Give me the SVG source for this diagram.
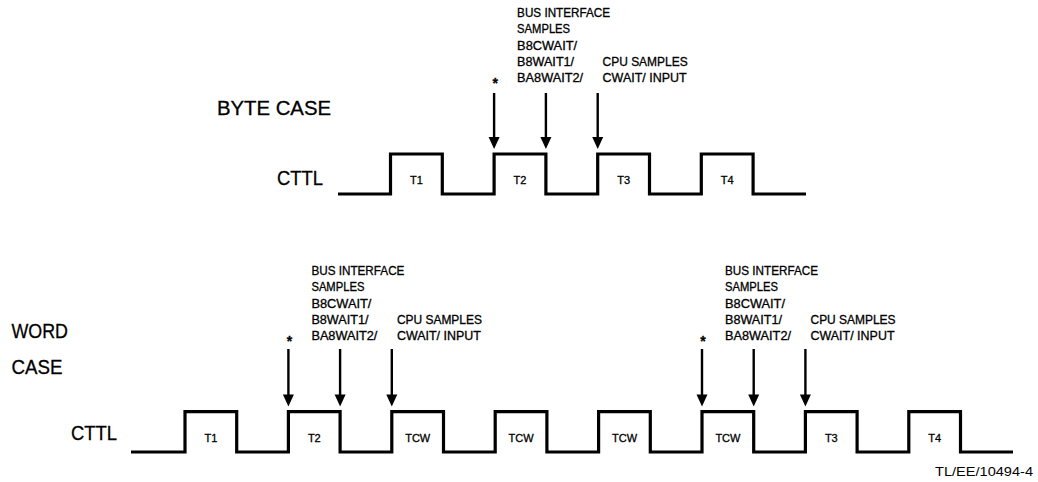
<svg xmlns="http://www.w3.org/2000/svg" width="1038" height="482" viewBox="0 0 1038 482">
<style>
text{font-family:"Liberation Sans",Arial,sans-serif;fill:#000;stroke:#000;stroke-width:0.3}
.big{font-size:20.5px}
.ann{font-size:12px}
.tl{font-size:11px;text-anchor:middle}
.star{font-size:14px;text-anchor:middle;font-weight:bold}
.foot{font-size:12.5px;stroke-width:0}
.wave{fill:none;stroke:#000;stroke-width:3.2;stroke-linejoin:miter;stroke-linecap:butt}
.shaft{stroke:#000;stroke-width:2.4}
.head{fill:#000}
</style>
<defs>
<g id="annot">
<text class="ann" x="23" y="0" textLength="93" lengthAdjust="spacingAndGlyphs">BUS INTERFACE</text>
<text class="ann" x="23" y="16.3" textLength="53" lengthAdjust="spacingAndGlyphs">SAMPLES</text>
<text class="ann" x="23" y="32.6" textLength="60" lengthAdjust="spacingAndGlyphs">B8CWAIT/</text>
<text class="ann" x="23" y="48.9" textLength="57" lengthAdjust="spacingAndGlyphs">B8WAIT1/</text>
<text class="ann" x="23" y="65.2" textLength="66" lengthAdjust="spacingAndGlyphs">BA8WAIT2/</text>
<text class="ann" x="108.5" y="48.9" textLength="85" lengthAdjust="spacingAndGlyphs">CPU SAMPLES</text>
<text class="ann" x="108.5" y="65.2" textLength="84" lengthAdjust="spacingAndGlyphs">CWAIT/ INPUT</text>
<text class="star" x="1" y="70.5">*</text>
</g>
</defs>

<g id="byte-case">
<text class="big" x="217" y="115" textLength="114" lengthAdjust="spacingAndGlyphs">BYTE CASE</text>
<text class="big" x="277" y="185" textLength="46" lengthAdjust="spacingAndGlyphs">CTTL</text>
<path class="wave" d="M338,194 H390.5 V154 H442.3 V194 H494.1 V154 H545.9 V194 H597.7 V154 H649.5 V194 H701.3 V154 H753.1 V194 H806"/>
<text class="tl" x="416.4" y="184">T1</text>
<text class="tl" x="520" y="184">T2</text>
<text class="tl" x="623.6" y="184">T3</text>
<text class="tl" x="727.2" y="184">T4</text>
<use href="#annot" x="494.1" y="17"/>
</g>

<g id="word-case">
<text class="big" x="11.5" y="338" textLength="56.5" lengthAdjust="spacingAndGlyphs">WORD</text>
<text class="big" x="11.5" y="374" textLength="51" lengthAdjust="spacingAndGlyphs">CASE</text>
<text class="big" x="71" y="439.5" textLength="46" lengthAdjust="spacingAndGlyphs">CTTL</text>
<path class="wave" d="M131,452 H185 V411.7 H236.7 V452 H288.4 V411.7 H340.1 V452 H391.8 V411.7 H443.5 V452 H495.2 V411.7 H546.9 V452 H598.6 V411.7 H650.3 V452 H702 V411.7 H753.7 V452 H805.4 V411.7 H857.1 V452 H908.8 V411.7 H960.5 V452 H1013"/>
<text class="tl" x="210.9" y="442">T1</text>
<text class="tl" x="314.3" y="442">T2</text>
<text class="tl" x="417.7" y="442">TCW</text>
<text class="tl" x="521" y="442">TCW</text>
<text class="tl" x="624.5" y="442">TCW</text>
<text class="tl" x="727.9" y="442">TCW</text>
<text class="tl" x="831.3" y="442">T3</text>
<text class="tl" x="934.7" y="442">T4</text>
<use href="#annot" x="288.4" y="275"/>
<use href="#annot" x="702" y="275"/>
</g>

<g id="connectors">
<line class="shaft" x1="494.1" y1="93" x2="494.1" y2="138"/>
<polygon class="head" points="488.6,137 499.6,137 494.1,149"/>
<line class="shaft" x1="545.9" y1="93" x2="545.9" y2="138"/>
<polygon class="head" points="540.4,137 551.4,137 545.9,149"/>
<line class="shaft" x1="597.7" y1="93" x2="597.7" y2="138"/>
<polygon class="head" points="592.2,137 603.2,137 597.7,149"/>

<line class="shaft" x1="288.4" y1="349" x2="288.4" y2="395"/>
<polygon class="head" points="282.9,394.5 293.9,394.5 288.4,406.5"/>
<line class="shaft" x1="340.1" y1="349" x2="340.1" y2="395"/>
<polygon class="head" points="334.6,394.5 345.6,394.5 340.1,406.5"/>
<line class="shaft" x1="391.8" y1="349" x2="391.8" y2="395"/>
<polygon class="head" points="386.3,394.5 397.3,394.5 391.8,406.5"/>

<line class="shaft" x1="702" y1="349" x2="702" y2="395"/>
<polygon class="head" points="696.5,394.5 707.5,394.5 702,406.5"/>
<line class="shaft" x1="753.7" y1="349" x2="753.7" y2="395"/>
<polygon class="head" points="748.2,394.5 759.2,394.5 753.7,406.5"/>
<line class="shaft" x1="805.4" y1="349" x2="805.4" y2="395"/>
<polygon class="head" points="799.9,394.5 810.9,394.5 805.4,406.5"/>
</g>

<text class="foot" x="935" y="475.5" textLength="98" lengthAdjust="spacingAndGlyphs">TL/EE/10494-4</text>
</svg>
